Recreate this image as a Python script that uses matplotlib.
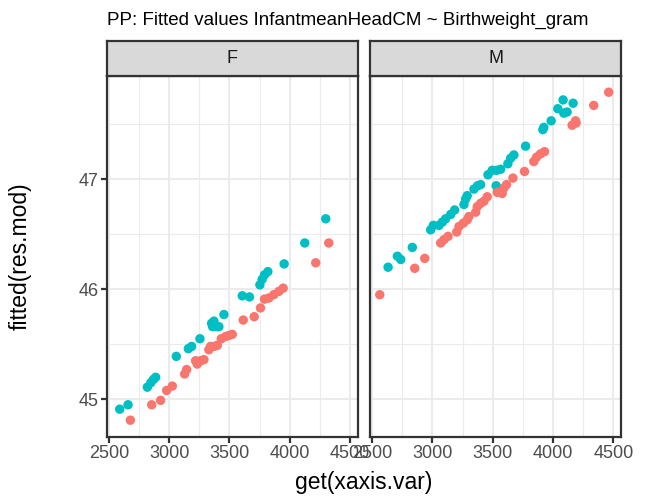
import matplotlib
matplotlib.use("Agg")
import matplotlib.pyplot as plt

plt.rcParams['font.family'] = ['Liberation Sans', 'DejaVu Sans']

# F panel
f_teal_x = [2591, 2660, 2820, 2848, 2870, 2889, 3060, 3160, 3187, 3256, 3353, 3372, 3361,
            3400, 3413, 3455, 3607, 3667, 3753, 3772, 3791, 3819, 3954, 4125, 4299]
f_teal_y = [44.91, 44.95, 45.11, 45.15, 45.18, 45.20, 45.39, 45.46, 45.48, 45.55, 45.69, 45.71, 45.66,
            45.66, 45.66, 45.77, 45.94, 45.93, 46.04, 46.09, 46.13, 46.16, 46.23, 46.42, 46.64]
f_red_x = [2679, 2856, 2930, 2980, 3027, 3129, 3146, 3234, 3220, 3262, 3289, 3330, 3344, 3372,
           3400, 3433, 3469, 3497, 3524, 3615, 3706, 3758, 3791, 3827, 3868, 3910, 3946, 4216, 4324]
f_red_y = [44.81, 44.95, 44.99, 45.08, 45.12, 45.23, 45.27, 45.32, 45.35, 45.35, 45.36, 45.45, 45.48, 45.48,
           45.49, 45.55, 45.57, 45.58, 45.59, 45.72, 45.75, 45.83, 45.91, 45.92, 45.95, 45.98, 46.01, 46.24, 46.42]

# M panel
m_red_x = [2564, 2854, 2937, 3069, 3096, 3130, 3202, 3221, 3256, 3289, 3303, 3359, 3372, 3400,
           3428, 3455, 3538, 3579, 3593, 3615, 3668, 3764, 3841, 3864, 3897, 3930, 4159, 4192, 4187,
           4338, 4462]
m_red_y = [45.95, 46.19, 46.28, 46.42, 46.45, 46.48, 46.52, 46.57, 46.60, 46.63, 46.66, 46.70, 46.75, 46.78,
           46.80, 46.84, 46.88, 46.87, 46.92, 46.95, 47.01, 47.07, 47.16, 47.20, 47.23, 47.25, 47.49, 47.51, 47.53,
           47.67, 47.79]
m_teal_x = [2633, 2710, 2738, 2834, 2986, 3008, 3055, 3083, 3110, 3152, 3185, 3262, 3276, 3289,
            3345, 3375, 3400, 3461, 3496, 3533, 3566, 3529, 3626, 3649, 3676, 3773, 3916, 3924, 3985,
            4040, 4084, 4090, 4167, 4117]
m_teal_y = [46.20, 46.30, 46.27, 46.38, 46.54, 46.58, 46.58, 46.61, 46.64, 46.68, 46.72, 46.77, 46.82, 46.85,
            46.91, 46.94, 46.95, 47.04, 47.08, 47.08, 47.09, 46.94, 47.14, 47.19, 47.22, 47.30, 47.45, 47.47, 47.53,
            47.64, 47.72, 47.60, 47.69, 47.61]

panels = ['F', 'M']
xticks = [2500, 3000, 3500, 4000, 4500]
yticks = [45, 46, 47]
red = '#F8766D'
teal = '#00BFC4'

W, H = 645, 496
fig = plt.figure(figsize=(W / 100, H / 100), dpi=100)

lefts = [106.7, 370.0]
pw = 251.0
ptop, pbot = 75.7, 436.7
strip_top = 41.0

data = [(f_red_x, f_red_y, f_teal_x, f_teal_y), (m_red_x, m_red_y, m_teal_x, m_teal_y)]

for i, (lab, (rx, ry, tx, ty)) in enumerate(zip(panels, data)):
    ax = fig.add_axes([lefts[i] / W, 1 - pbot / H, pw / W, (pbot - ptop) / H])
    ax.set_xlim(2483, 4564)
    ax.set_ylim(44.66, 47.94)
    ax.set_xticks(xticks)
    ax.set_xticks([2750, 3250, 3750, 4250], minor=True)
    ax.set_yticks(yticks)
    ax.set_yticks([45.5, 46.5, 47.5], minor=True)
    ax.grid(which='major', color='#EBEBEB', lw=1.5, zorder=0)
    ax.grid(which='minor', color='#EBEBEB', lw=0.8, zorder=0)
    ax.set_axisbelow(True)
    ax.scatter(tx, ty, s=46, color=teal, edgecolors='none', zorder=3)
    ax.scatter(rx, ry, s=46, color=red, edgecolors='none', zorder=3)
    for sp in ax.spines.values():
        sp.set_color('#333333')
        sp.set_linewidth(1.6)
    ax.tick_params(which='major', length=4, width=1.6, color='#333333',
                   labelcolor='#4D4D4D', labelsize=13, pad=2)
    ax.tick_params(which='minor', length=0)
    if i > 0:
        ax.tick_params(axis='y', left=False, labelleft=False)
    # strip
    sax = fig.add_axes([lefts[i] / W, 1 - ptop / H, pw / W, (ptop - strip_top) / H])
    sax.set_xticks([])
    sax.set_yticks([])
    sax.set_facecolor('#D9D9D9')
    for sp in sax.spines.values():
        sp.set_color('#333333')
        sp.set_linewidth(1.6)
    sax.text(0.5, 0.5, lab, ha='center', va='center', fontsize=13, color='#1A1A1A',
             transform=sax.transAxes)

fig.text(107 / W, 1 - 20 / H, 'PP: Fitted values InfantmeanHeadCM ~ Birthweight_gram',
         ha='left', va='center', fontsize=13.5, color='black')
fig.text((106.7 + 621) / 2 / W, 1 - 482 / H, 'get(xaxis.var)', ha='center', va='center',
         fontsize=16.5, color='black')
fig.text(20 / W, 1 - 256 / H, 'fitted(res.mod)', ha='center', va='center', rotation=90,
         fontsize=16.5, color='black')

fig.savefig('out.png', dpi=100)
